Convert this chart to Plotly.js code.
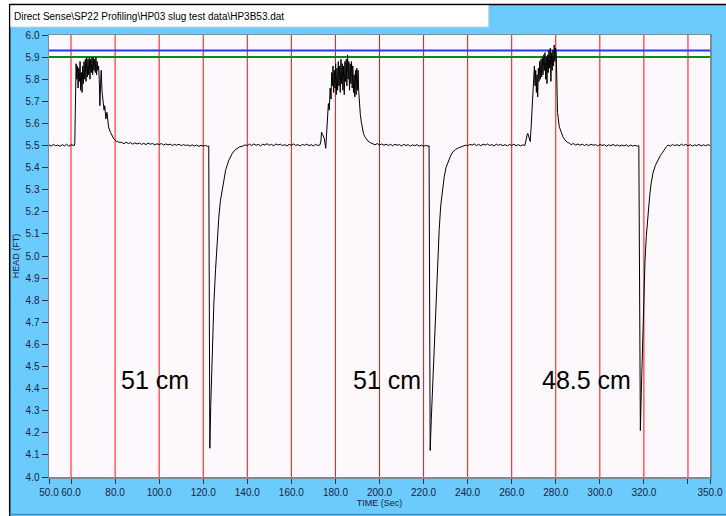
<!DOCTYPE html>
<html><head><meta charset="utf-8">
<script src="https://cdn.plot.ly/plotly-3.0.1.min.js"></script>
<style>html,body{margin:0;padding:0;background:#ffffff;} #chart{width:726px;height:516px;}</style>
</head><body><div id="chart"></div>
<script>
// ---- data ----
const fileTitle = "Direct Sense\\SP22 Profiling\\HP03 slug test data\\HP3B53.dat";
const xTickVals = [50, 60, 80, 100, 120, 140, 160, 180, 200, 220, 240, 260, 280, 300, 320, 340, 350];
const xTickText = ["50.0", "60.0", "80.0", "100.0", "120.0", "140.0", "160.0", "180.0", "200.0", "220.0", "240.0", "260.0", "280.0", "300.0", "320.0", "", "350.0"];
const yTickVals = [4.0, 4.1, 4.2, 4.3, 4.4, 4.5, 4.6, 4.7, 4.8, 4.9, 5.0, 5.1, 5.2, 5.3, 5.4, 5.5, 5.6, 5.7, 5.8, 5.9, 6.0];
const gridTimes = [60, 80, 100, 120, 140, 160, 180, 200, 220, 240, 260, 280, 300, 320, 340];
const blueLevel = 5.93;
const greenLevel = 5.90;
const labelTexts = ["51 cm", "51 cm", "48.5 cm"];
const labelTimes = [98.0, 203.4, 293.8];
const labelHeads = [4.44, 4.44, 4.44];

const leadT = [50, 51, 52, 53, 54, 55, 56, 57, 58, 59, 60, 61, 61.5];
const leadH = [5.503, 5.497, 5.505, 5.499, 5.502, 5.496, 5.504, 5.498, 5.506, 5.497, 5.503, 5.499, 5.500];

const pulse1T = [61.7, 62.0, 62.3, 62.6, 62.9, 63.2, 63.5, 63.8, 64.1, 64.4, 64.7, 65.0, 65.3, 65.6, 65.9, 66.2, 66.5, 66.8, 67.1, 67.4, 67.7, 68.0, 68.3, 68.6, 68.9, 69.2, 69.5, 69.8, 70.1, 70.4, 70.7, 71.0, 71.3, 71.6, 71.9, 72.2, 72.5,
  72.8, 73.1, 73.4, 73.7, 74.1, 74.6, 75.0, 75.3, 75.8, 76.3, 77.1, 77.9, 78.6, 79.4, 80.5, 81.7];
const pulse1H = [5.51, 5.84, 5.87, 5.80, 5.86, 5.76, 5.85, 5.79, 5.88, 5.75, 5.83, 5.74, 5.86, 5.78, 5.88, 5.80, 5.89, 5.79, 5.90, 5.81, 5.89, 5.82, 5.90, 5.80, 5.89, 5.83, 5.90, 5.82, 5.90, 5.84, 5.89, 5.83, 5.90, 5.82, 5.88, 5.84, 5.86,
  5.80, 5.68, 5.78, 5.84, 5.74, 5.70, 5.66, 5.68, 5.62, 5.65, 5.58, 5.56, 5.545, 5.53, 5.52, 5.515];

const rest1T = [83, 84, 85, 86, 87, 88, 89, 90, 91, 92, 93, 94, 95, 96, 97, 98, 99, 100, 101, 102, 103, 104, 105, 106, 107, 108, 109, 110, 111, 112, 113, 114, 115, 116, 117, 118, 119, 120, 121, 122, 122.5];
const rest1H = [5.514, 5.508, 5.515, 5.509, 5.513, 5.506, 5.512, 5.507, 5.511, 5.505, 5.510, 5.504, 5.511, 5.506, 5.509, 5.503, 5.508, 5.504, 5.509, 5.502, 5.507, 5.503, 5.506, 5.500, 5.505, 5.501, 5.506, 5.499, 5.504, 5.500, 5.503, 5.497, 5.503, 5.498, 5.502, 5.496, 5.501, 5.497, 5.500, 5.496, 5.498];

const slug1T = [122.7, 123.0, 123.4, 124.1, 124.8, 125.6, 126.3, 127.1, 127.8, 128.6, 129.4, 130.2, 131.5, 132.3, 133.2, 134.2, 135.3, 136.5, 137.8, 139.3];
const slug1H = [4.75, 4.13, 4.32, 4.56, 4.78, 4.94, 5.06, 5.18, 5.25, 5.30, 5.35, 5.39, 5.43, 5.45, 5.465, 5.478, 5.486, 5.494, 5.497, 5.503];

const rest2T = [140, 141, 142, 143, 144, 145, 146, 147, 148, 149, 150, 151, 152, 153, 154, 155, 156, 157, 158, 159, 160, 161, 162, 163, 164, 165, 166, 167, 168, 169, 170, 171, 172, 173];
const rest2H = [5.499, 5.506, 5.500, 5.507, 5.501, 5.505, 5.498, 5.506, 5.502, 5.508, 5.501, 5.505, 5.499, 5.507, 5.502, 5.506, 5.500, 5.504, 5.498, 5.505, 5.501, 5.507, 5.500, 5.504, 5.498, 5.505, 5.501, 5.506, 5.499, 5.504, 5.498, 5.505, 5.500, 5.503];

const pulse2T = [173.4, 173.7, 174.2, 175.0, 175.6, 176.0, 176.4, 176.8, 177.2, 177.6, 178.0, 178.3, 178.6, 178.9, 179.2, 179.5, 179.8, 180.1, 180.4, 180.7, 181.0, 181.3, 181.6, 181.9, 182.2, 182.5, 182.8, 183.1, 183.4, 183.7, 184.0, 184.3, 184.6, 184.9, 185.2, 185.5, 185.8, 186.1, 186.4, 186.7, 187.0, 187.3, 187.6, 187.9, 188.2, 188.5, 188.8, 189.1, 189.4, 189.7, 190.0, 190.3, 190.6,
  190.9, 191.3, 191.7, 192.2, 192.7, 193.3, 194.0, 194.8, 196.0];
const pulse2H = [5.52, 5.56, 5.55, 5.53, 5.487, 5.55, 5.615, 5.69, 5.66, 5.76, 5.71, 5.83, 5.77, 5.86, 5.74, 5.84, 5.76, 5.87, 5.73, 5.85, 5.75, 5.88, 5.77, 5.86, 5.74, 5.89, 5.78, 5.87, 5.75, 5.86, 5.73, 5.88, 5.79, 5.89, 5.77, 5.91, 5.80, 5.88, 5.75, 5.87, 5.78, 5.88, 5.76, 5.86, 5.74, 5.82, 5.72, 5.84, 5.73, 5.85, 5.75, 5.84, 5.74,
  5.68, 5.64, 5.61, 5.58, 5.555, 5.54, 5.53, 5.52, 5.512];

const rest3T = [197, 198, 199, 200, 201, 202, 203, 204, 205, 206, 207, 208, 209, 210, 211, 212, 213, 214, 215, 216, 217, 218, 219, 220, 221, 222, 222.5];
const rest3H = [5.508, 5.503, 5.509, 5.502, 5.507, 5.501, 5.506, 5.500, 5.505, 5.499, 5.506, 5.501, 5.504, 5.498, 5.505, 5.500, 5.504, 5.497, 5.503, 5.499, 5.504, 5.497, 5.502, 5.496, 5.501, 5.497, 5.499];

const slug2T = [222.6, 223.0, 223.5, 224.1, 224.8, 225.6, 226.3, 227.1, 227.8, 228.6, 229.4, 230.2, 231.2, 232.2, 233.2, 234.5, 236.0, 237.5, 239.3];
const slug2H = [4.80, 4.12, 4.26, 4.41, 4.62, 4.82, 4.98, 5.12, 5.23, 5.31, 5.36, 5.40, 5.43, 5.452, 5.47, 5.482, 5.49, 5.496, 5.502];

const rest4T = [240, 241, 242, 243, 244, 245, 246, 247, 248, 249, 250, 251, 252, 253, 254, 255, 256, 257, 258, 259, 260, 261, 262, 263, 264, 265, 266];
const rest4H = [5.498, 5.506, 5.501, 5.507, 5.500, 5.505, 5.499, 5.506, 5.502, 5.507, 5.500, 5.504, 5.498, 5.506, 5.501, 5.505, 5.499, 5.504, 5.498, 5.505, 5.500, 5.506, 5.499, 5.504, 5.498, 5.503, 5.500];

const pulse3T = [266.5, 267.0, 267.3, 267.8, 268.4, 268.8, 269.1, 269.6, 270.0, 270.3, 270.6, 270.9, 271.2, 271.5, 271.8, 272.1, 272.4, 272.7, 273.0, 273.3, 273.6, 273.9, 274.2, 274.5, 274.8, 275.1, 275.4, 275.7, 276.0, 276.3, 276.6, 276.9, 277.2, 277.5, 277.8, 278.1, 278.4, 278.7, 279.0, 279.3, 279.6, 279.9, 280.2,
  280.4, 280.8, 281.6, 282.4, 283.2, 284.2, 285.2, 286.2];
const pulse3H = [5.53, 5.548, 5.555, 5.54, 5.518, 5.58, 5.646, 5.72, 5.796, 5.86, 5.77, 5.84, 5.74, 5.82, 5.72, 5.85, 5.79, 5.88, 5.80, 5.89, 5.81, 5.90, 5.82, 5.91, 5.84, 5.92, 5.80, 5.90, 5.78, 5.91, 5.83, 5.93, 5.85, 5.94, 5.79, 5.92, 5.84, 5.93, 5.86, 5.955, 5.88, 5.94, 5.92,
  5.77, 5.65, 5.585, 5.56, 5.54, 5.525, 5.515, 5.51];

const rest5T = [287, 288, 289, 290, 291, 292, 293, 294, 295, 296, 297, 298, 299, 300, 301, 302, 303, 304, 305, 306, 307, 308, 309, 310, 311, 312, 313, 314, 315, 316, 317, 317.7];
const rest5H = [5.504, 5.509, 5.502, 5.507, 5.501, 5.506, 5.500, 5.505, 5.499, 5.506, 5.501, 5.504, 5.498, 5.505, 5.500, 5.504, 5.497, 5.503, 5.499, 5.505, 5.498, 5.503, 5.497, 5.502, 5.498, 5.503, 5.496, 5.502, 5.497, 5.501, 5.497, 5.499];

const slug3T = [317.9, 318.4, 318.8, 319.3, 320.0, 320.5, 321.1, 321.8, 322.6, 323.3, 324.1, 325.2, 326.4, 327.5, 328.6, 329.4, 330.2];
const slug3H = [4.90, 4.21, 4.38, 4.56, 4.86, 4.98, 5.09, 5.19, 5.27, 5.33, 5.374, 5.41, 5.434, 5.455, 5.47, 5.485, 5.495];

const rest6T = [331, 332, 333, 334, 335, 336, 337, 338, 339, 340, 341, 342, 343, 344, 345, 346, 347, 348, 349, 350];
const rest6H = [5.502, 5.497, 5.505, 5.499, 5.504, 5.498, 5.506, 5.500, 5.505, 5.499, 5.504, 5.497, 5.503, 5.499, 5.505, 5.498, 5.503, 5.499, 5.504, 5.500];

// ---- build ----
const timeSec = [].concat(leadT, pulse1T, rest1T, slug1T, rest2T, pulse2T, rest3T, slug2T, rest4T, pulse3T, rest5T, slug3T, rest6T);
const headFt = [].concat(leadH, pulse1H, rest1H, slug1H, rest2H, pulse2H, rest3H, slug2H, rest4H, pulse3H, rest5H, slug3H, rest6H);

const navy = '#1a2240';
const PX = (px) => (px - 49.3) / 661;   // paper x from pixel
const PY = (py) => (477 - py) / 442;    // paper y from pixel

const shapes = gridTimes.map(t => ({
  type: 'line', xref: 'x', yref: 'paper', x0: t, x1: t, y0: 0, y1: 1,
  line: {color: '#ff1010', width: 1}, layer: 'below'
}));
// window frame decorations
shapes.push({type: 'rect', xref: 'paper', yref: 'paper', x0: PX(-5), x1: PX(10), y0: PY(520), y1: PY(-5), fillcolor: '#ffffff', line: {width: 0}, layer: 'below'});
shapes.push({type: 'rect', xref: 'paper', yref: 'paper', x0: PX(-5), x1: PX(730), y0: PY(4), y1: PY(-5), fillcolor: '#ffffff', line: {width: 0}, layer: 'below'});
shapes.push({type: 'line', xref: 'paper', yref: 'paper', x0: PX(10), x1: PX(10), y0: PY(516), y1: PY(4), line: {color: '#000000', width: 1.5}, layer: 'below'});
shapes.push({type: 'line', xref: 'paper', yref: 'paper', x0: PX(10), x1: PX(730), y0: PY(4.5), y1: PY(4.5), line: {color: '#000000', width: 1.5}, layer: 'below'});
shapes.push({type: 'rect', xref: 'paper', yref: 'paper', x0: PX(11), x1: PX(489), y0: PY(27), y1: PY(5.5), fillcolor: '#ffffff', line: {color: '#c8d0d8', width: 1}, layer: 'below'});
shapes.push({type: 'line', xref: 'paper', yref: 'paper', x0: PX(10), x1: PX(730), y0: PY(514.5), y1: PY(514.5), line: {color: '#3a8fc0', width: 1.5}, layer: 'below'});

const traces = [
  {x: [50, 350], y: [blueLevel, blueLevel], mode: 'lines', line: {color: '#1c3cff', width: 2}, hoverinfo: 'skip'},
  {x: [50, 350], y: [greenLevel, greenLevel], mode: 'lines', line: {color: '#0b8a1a', width: 2}, hoverinfo: 'skip'},
  {x: timeSec, y: headFt, mode: 'lines', line: {color: '#000000', width: 1}, hoverinfo: 'skip'}
];

const annotations = labelTexts.map((s, i) => ({
  x: labelTimes[i], y: labelHeads[i], xref: 'x', yref: 'y', text: s, showarrow: false,
  xanchor: 'center', yanchor: 'middle',
  font: {family: 'Liberation Sans, Arial, sans-serif', size: 25, color: '#000000'}
}));
annotations.push({
  x: PX(12), y: PY(16.5), xref: 'paper', yref: 'paper', text: fileTitle, showarrow: false,
  xanchor: 'left', yanchor: 'middle',
  font: {family: 'Liberation Sans, Arial, sans-serif', size: 10, color: '#000000'}
});

const layout = {
  width: 726, height: 516,
  margin: {l: 49.3, r: 15.7, t: 35, b: 39, pad: 0},
  paper_bgcolor: '#6ccbfd',
  plot_bgcolor: '#fdf8fc',
  showlegend: false,
  xaxis: {
    range: [50, 350], tickmode: 'array', tickvals: xTickVals, ticktext: xTickText,
    ticks: 'outside', ticklen: 5, tickwidth: 1, tickcolor: '#2a3345',
    showgrid: false, zeroline: false,
    showline: true, mirror: true, linecolor: '#7d8a98', linewidth: 1.5,
    tickfont: {family: 'Liberation Sans, Arial, sans-serif', size: 10, color: navy},
    title: {text: 'TIME (Sec)', standoff: 3, font: {family: 'Liberation Sans, Arial, sans-serif', size: 9, color: navy}}
  },
  yaxis: {
    range: [4.0, 6.0], tickmode: 'array', tickvals: yTickVals, tickformat: '.1f',
    ticks: 'outside', ticklen: 6, tickwidth: 1, tickcolor: '#2a3345',
    showgrid: false, zeroline: false,
    showline: true, mirror: true, linecolor: '#7d8a98', linewidth: 1.5,
    tickfont: {family: 'Liberation Sans, Arial, sans-serif', size: 10, color: navy},
    title: {text: 'HEAD (FT)', standoff: 4, font: {family: 'Liberation Sans, Arial, sans-serif', size: 9, color: navy}}
  },
  shapes: shapes,
  annotations: annotations
};

Plotly.newPlot('chart', traces, layout, {displayModeBar: false, staticPlot: true});
</script></body></html>
